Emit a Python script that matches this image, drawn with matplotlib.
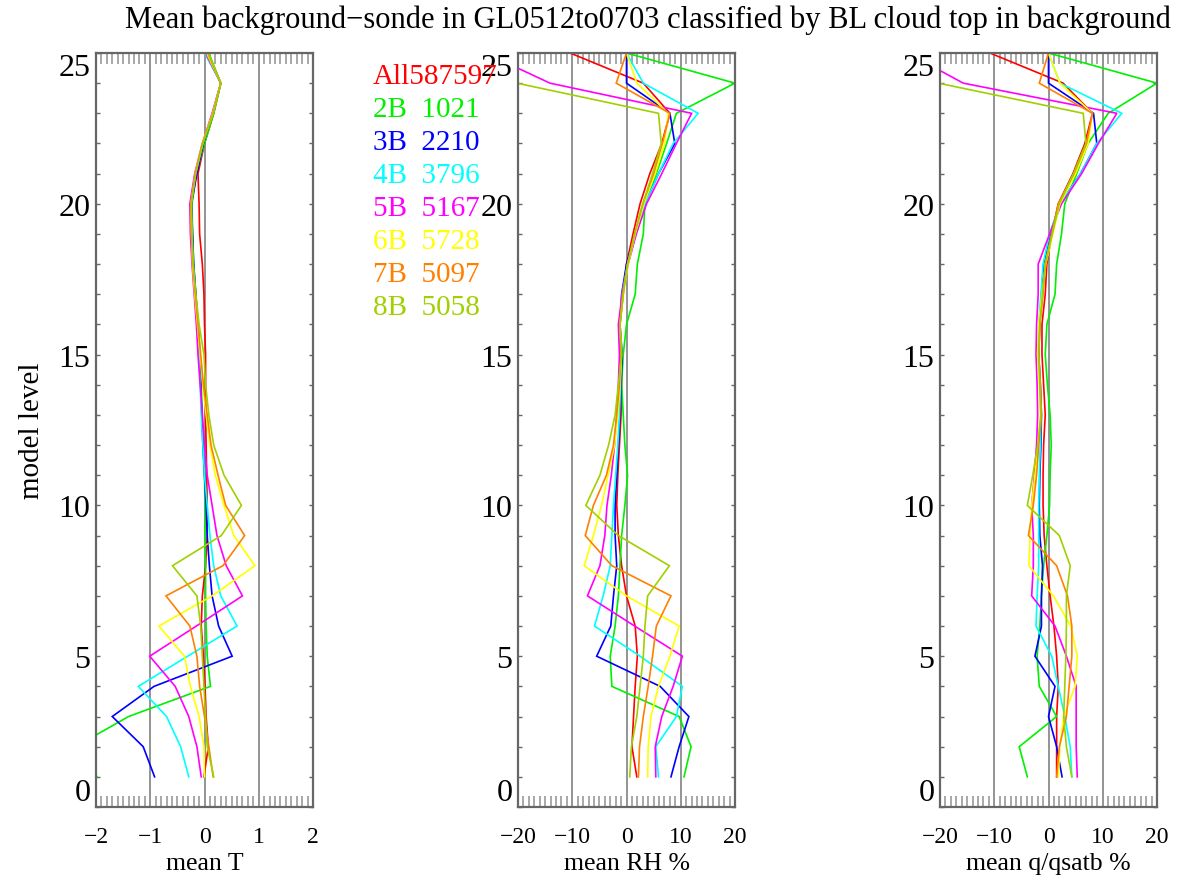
import numpy as np
import matplotlib
matplotlib.use("Agg")
import matplotlib.pyplot as plt
from matplotlib.ticker import MultipleLocator

plt.rcParams['font.family'] = ['Liberation Serif', 'DejaVu Serif']

levels = np.arange(1, 26)

names = ["All587597", "2B  1021", "3B  2210", "4B  3796", "5B  5167",
         "6B  5728", "7B  5097", "8B  5058"]
colors = ["#ff0000", "#00f000", "#0000ff", "#00ffff", "#ff00ff",
          "#ffff00", "#ff8000", "#a0d000"]

# mean T, levels 1..25
t_all = [-0.01, 0.07, 0.03, 0.01, -0.02, -0.06, -0.04, 0.02, 0.05, 0.05, 0.04, 0.03, 0.02,
         0.02, 0.02, 0.0, -0.01, -0.04, -0.09, -0.10, -0.12, 0.0, 0.17, 0.30, 0.05]
t_2b = [-1.98, -2.38, -1.40, 0.11, 0.05, 0.03, 0.02, 0.02, 0.01, 0.01, 0.0, -0.02, -0.04,
        -0.06, -0.08, -0.12, -0.16, -0.20, -0.22, -0.23, -0.15, 0.0, 0.17, 0.30, 0.08]
t_3b = [-0.92, -1.13, -1.70, -0.93, 0.51, 0.26, 0.14, 0.09, 0.05, 0.03, 0.0, -0.03, -0.05,
        -0.07, -0.09, -0.12, -0.16, -0.20, -0.22, -0.24, -0.14, -0.02, 0.15, 0.30, 0.05]
t_4b = [-0.29, -0.44, -0.70, -1.22, -0.31, 0.60, 0.30, 0.17, 0.10, 0.05, 0.0, -0.03, -0.06,
        -0.08, -0.10, -0.13, -0.17, -0.21, -0.23, -0.25, -0.17, -0.03, 0.15, 0.30, 0.0]
t_5b = [-0.06, -0.14, -0.29, -0.54, -1.01, -0.15, 0.70, 0.40, 0.23, 0.14, 0.05, 0.0, -0.04,
        -0.08, -0.12, -0.15, -0.19, -0.23, -0.26, -0.27, -0.18, -0.04, 0.14, 0.30, 0.02]
t_6b = [0.0, -0.01, -0.10, -0.26, -0.37, -0.84, 0.14, 0.93, 0.54, 0.36, 0.20, 0.10, 0.03,
        -0.03, -0.08, -0.13, -0.18, -0.22, -0.24, -0.25, -0.17, -0.04, 0.15, 0.30, 0.04]
t_7b = [0.16, 0.08, 0.0, -0.09, -0.14, -0.27, -0.71, 0.34, 0.74, 0.39, 0.25, 0.12, 0.05,
        -0.02, -0.07, -0.12, -0.17, -0.21, -0.24, -0.25, -0.17, -0.04, 0.16, 0.30, 0.06]
t_8b = [0.17, 0.05, 0.02, -0.01, -0.04, -0.07, -0.14, -0.59, 0.31, 0.68, 0.36, 0.17, 0.08,
        0.02, -0.01, -0.10, -0.16, -0.21, -0.23, -0.24, -0.16, -0.03, 0.16, 0.30, 0.07]

# mean RH %
rh_all = [1.9, 1.0, 1.3, 1.6, 2.0, 1.6, 0.0, -0.9, -1.5, -1.8, -1.6, -1.3, -1.0, -0.9, -1.0,
          -1.2, -0.6, 0.0, 1.2, 2.5, 4.3, 6.5, 8.0, 3.1, -10.4]
rh_2b = [10.6, 11.9, 9.7, -2.7, -3.0, -2.1, -1.5, -1.2, -0.9, -0.3, 0.2, -0.3, -0.6, -0.9, -0.6,
         0.0, 1.6, 2.0, 3.1, 3.4, 5.5, 7.4, 9.2, 20.0, 0.0]
rh_3b = [8.2, 9.7, 11.5, 6.2, -5.5, -2.9, -2.4, -1.8, -2.1, -2.1, -1.8, -1.5, -1.2, -1.0, -0.8,
         -1.2, -0.9, 0.0, 1.6, 3.4, 5.9, 8.9, 8.0, 0.0, 0.0]
rh_4b = [5.9, 5.4, 9.2, 10.3, 2.5, -5.9, -4.3, -3.0, -2.7, -2.4, -2.0, -1.6, -1.3, -1.1, -1.0,
         -1.3, -0.8, 0.2, 1.8, 3.4, 5.9, 8.6, 13.2, 3.1, 0.0]
rh_5b = [5.4, 5.3, 6.5, 8.6, 10.3, 1.5, -7.2, -4.9, -4.0, -3.6, -2.8, -2.2, -1.8, -1.5, -1.3,
         -1.5, -0.8, 0.3, 1.8, 3.7, 6.5, 9.2, 12.0, -14.1, -26.0]
rh_6b = [3.9, 4.0, 4.5, 5.9, 8.0, 9.7, 0.0, -7.8, -6.1, -4.6, -3.4, -2.2, -1.6, -1.2, -0.9,
         -1.2, -0.6, 0.3, 1.6, 3.2, 5.3, 7.0, 7.7, 1.9, 0.0]
rh_7b = [2.2, 2.4, 3.1, 4.0, 4.8, 5.5, 8.2, -2.7, -7.6, -6.1, -3.7, -2.4, -1.8, -1.3, -1.0,
         -1.2, -0.7, 0.2, 1.5, 3.0, 5.0, 6.6, 8.0, -1.9, 0.0]
rh_8b = [0.6, 0.9, 1.9, 2.5, 3.1, 3.4, 3.9, 7.9, -1.5, -7.5, -4.9, -3.3, -2.1, -1.5, -0.9,
         -1.2, -0.6, 0.2, 1.5, 3.0, 4.8, 6.4, 5.9, -20.2, -25.0]

# mean q/qsatb %
q_all = [1.5, 1.5, 1.5, 1.8, 1.5, 1.0, 0.3, -0.3, -0.8, -1.0, -1.0, -0.9, -0.6, -0.9, -1.2,
         -1.2, -0.6, -0.3, 0.6, 1.8, 4.5, 6.7, 8.1, 2.7, -10.8]
q_2b = [-3.9, -5.4, 1.5, -1.7, -2.1, -1.6, -1.3, -0.9, -0.3, 0.2, 0.3, 0.5, 0.3, -0.2, -0.6,
        -0.3, 1.2, 1.5, 2.4, 3.0, 5.2, 7.3, 11.0, 20.0, 0.0]
q_3b = [2.5, 1.5, 0.0, 1.2, -2.5, -1.3, -1.3, -1.1, -1.6, -1.7, -1.6, -1.4, -1.3, -1.5, -1.8,
        -1.6, -1.3, -0.9, 0.3, 2.1, 5.9, 8.9, 8.3, 0.0, 0.0]
q_4b = [4.3, 4.0, 3.0, 1.8, 0.6, -2.3, -2.1, -1.8, -1.8, -1.8, -1.7, -1.5, -1.4, -1.6, -1.9,
        -1.8, -1.4, -1.0, 0.2, 2.1, 5.9, 8.9, 13.5, 2.1, 0.0]
q_5b = [5.3, 5.1, 5.1, 5.1, 3.3, 1.2, -3.1, -2.8, -2.8, -3.1, -2.6, -2.2, -2.0, -2.1, -2.3,
        -2.2, -1.9, -1.9, 0.2, 2.4, 6.1, 9.2, 12.6, -15.7, -26.0]
q_6b = [1.8, 2.1, 2.8, 4.9, 5.3, 4.1, 0.9, -3.6, -3.4, -3.1, -2.5, -1.9, -1.5, -1.7, -2.0,
        -1.8, -1.2, -0.5, 0.8, 2.1, 5.0, 7.3, 8.1, 2.1, 0.0]
q_7b = [1.5, 2.0, 3.3, 3.8, 4.3, 4.3, 3.5, 1.5, -3.7, -2.8, -2.2, -1.8, -1.3, -1.5, -1.8,
        -1.6, -1.0, -0.6, 0.6, 1.8, 4.7, 7.0, 8.1, -1.7, 0.0]
q_8b = [4.3, 3.3, 2.8, 3.0, 3.2, 3.3, 3.3, 4.0, 2.0, -3.9, -2.9, -2.0, -1.4, -1.6, -1.8,
        -1.6, -1.1, -0.6, 0.7, 2.0, 4.6, 6.9, 6.4, -20.3, -25.0]

panels = [
    ([t_all, t_2b, t_3b, t_4b, t_5b, t_6b, t_7b, t_8b], (-2, 2), 1, "mean T"),
    ([rh_all, rh_2b, rh_3b, rh_4b, rh_5b, rh_6b, rh_7b, rh_8b], (-20, 20), 10, "mean RH %"),
    ([q_all, q_2b, q_3b, q_4b, q_5b, q_6b, q_7b, q_8b], (-20, 20), 10, "mean q/qsatb %"),
]

W, H = 1180, 879
fig = plt.figure(figsize=(W / 100, H / 100), dpi=100)
lefts = [96, 518, 940]
aw = 217
top, bot = 54, 808

axes = []
for i, (series, xlim, step, xlab) in enumerate(panels):
    ax = fig.add_axes([lefts[i] / W, 1 - bot / H, aw / W, (bot - top) / H])
    for vals, c in zip(series, colors):
        ax.plot(vals, levels, color=c, lw=1.2, solid_joinstyle='miter')
    ax.set_xlim(*xlim)
    ax.set_ylim(0, 25)
    for xv in np.arange(xlim[0] + step, xlim[1], step):
        ax.axvline(xv, color='#777777', lw=1.1, zorder=0)
    ax.set_xticks(np.arange(xlim[0], xlim[1] + step / 2, step))
    ax.xaxis.set_minor_locator(MultipleLocator(step / 10))
    ax.tick_params(axis='x', which='major', length=0, pad=14, labelsize=17)
    ax.tick_params(axis='x', which='minor', direction='in', length=8, width=1.2,
                   color='#999999', top=True, bottom=True)
    ax.set_yticks([0, 5, 10, 15, 20, 25])
    ax.yaxis.set_minor_locator(MultipleLocator(1))
    ax.tick_params(axis='y', which='both', direction='in', length=3, width=1,
                   color='#666666', left=True, right=True, labelsize=23, pad=4)
    for sp in ax.spines.values():
        sp.set_color('#666666')
        sp.set_linewidth(1.6)
    ax.set_xlabel(xlab, fontsize=18.5, labelpad=3)
    if i == 0:
        ax.set_ylabel("model level", fontsize=21, labelpad=10)
    axes.append(ax)

fig.text(648 / W, 1 - 20 / H, "Mean background\u2212sonde in GL0512to0703 classified by BL cloud top in background",
         ha='center', va='center', fontsize=22)

for k, (nm, c) in enumerate(zip(names, colors)):
    fig.text(373 / W, 1 - (77 + 33 * k) / H, nm, color=c, fontsize=21, ha='left', va='center')

# IDL style: end labels pulled inside the axis range
fig.canvas.draw()
for ax in axes:
    for tk in ax.yaxis.get_major_ticks():
        if abs(tk.get_loc()) < 1e-6:
            tk.label1.set_va('bottom')
        elif abs(tk.get_loc() - 25) < 1e-6:
            tk.label1.set_va('top')

fig.savefig("out.png", dpi=100)
